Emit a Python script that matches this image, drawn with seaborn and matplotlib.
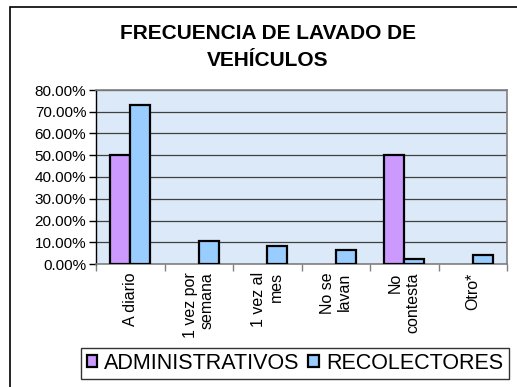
import matplotlib
matplotlib.use("Agg")
import matplotlib.pyplot as plt
import seaborn as sns
import pandas as pd
from matplotlib.patches import Rectangle, Patch
from matplotlib.ticker import FixedLocator, FuncFormatter

# Survey data: share of respondents by washing frequency
categorias = ["A diario", "1 vez por\nsemana", "1 vez al\nmes", "No se\nlavan", "No\ncontesta", "Otro*"]
administrativos = [50.0, 0.0, 0.0, 0.0, 50.0, 0.0]
recolectores = [72.9, 10.4, 8.3, 6.3, 2.1, 4.2]
grupos = ["ADMINISTRATIVOS", "RECOLECTORES"]
colores = ["#CC99FF", "#99CCFF"]
titulo = "FRECUENCIA DE LAVADO DE\nVEHÍCULOS"

df = pd.DataFrame({
    "categoria": categorias * 2,
    "valor": administrativos + recolectores,
    "grupo": [grupos[0]] * len(categorias) + [grupos[1]] * len(categorias),
})

sns.set_theme(style="white")
plt.rcParams["font.family"] = ["Liberation Sans", "DejaVu Sans"]
for key in ["text.color", "axes.labelcolor", "xtick.color", "ytick.color"]:
    plt.rcParams[key] = "black"

W, H = 517, 387
fig = plt.figure(figsize=(W / 100, H / 100), dpi=100)

# outer chart frame (extends past the right and bottom edges)
fig.patches.append(Rectangle((10 / W, -0.1), 1.2, 1 - 7 / H + 0.1,
                             transform=fig.transFigure, fill=False,
                             edgecolor="black", linewidth=1.2, zorder=0))

ax = fig.add_axes([96 / W, 1 - 264 / H, (507 - 96) / W, (264 - 90) / H])
ax.set_facecolor("#DCE9F8")

sns.barplot(data=df, x="categoria", y="valor", hue="grupo", hue_order=grupos,
            palette=colores, width=0.58, gap=0, edgecolor="black", linewidth=1.6,
            saturation=1, ax=ax, legend=False, zorder=3)

# empty categories show no bar at all
for bar in ax.patches:
    if bar.get_height() == 0:
        bar.set_visible(False)

ax.set_ylim(0, 80)
ax.set_xlim(-0.5, len(categorias) - 0.5)
ax.yaxis.set_major_locator(FixedLocator(range(0, 81, 10)))
ax.yaxis.set_major_formatter(FuncFormatter(lambda v, p: f"{v:.2f}%"))
ax.grid(axis="y", color="#404040", linewidth=0.9, zorder=1)
ax.set_axisbelow(True)
ax.set_xlabel("")
ax.set_ylabel("")

for side in ["top", "right", "bottom"]:
    ax.spines[side].set_color("#808080")
    ax.spines[side].set_linewidth(1.2)
ax.spines["left"].set_color("black")
ax.spines["left"].set_linewidth(1.0)

ax.tick_params(axis="y", which="major", direction="out", length=5, width=1,
               color="black", labelsize=11, pad=2, left=True)
ax.set_xticks(range(len(categorias)))
ax.set_xticklabels(categorias, rotation=90, fontsize=11.5, va="top",
                   ha="center", multialignment="right")
ax.tick_params(axis="x", which="major", length=0, pad=6)
ax.set_xticks([i + 0.5 for i in range(-1, len(categorias))], minor=True)
ax.tick_params(axis="x", which="minor", direction="out", length=5, width=1,
               color="#808080", bottom=True)

handles = [Patch(facecolor=c, edgecolor="black", linewidth=1.6) for c in colores]
leg = fig.legend(handles, grupos, loc="center", bbox_to_anchor=(295 / W, 1 - 363.5 / H),
                 ncol=2, frameon=True, fancybox=False, fontsize=15.5,
                 handlelength=0.5, handleheight=0.5, handletextpad=0.32,
                 columnspacing=0.4, borderpad=0.25, borderaxespad=0)
leg.get_frame().set_edgecolor("black")
leg.get_frame().set_linewidth(1.0)

fig.text(268 / W, 1 - 24 / H, titulo, ha="center", va="top", fontsize=15,
         fontweight="bold", linespacing=1.55)

fig.savefig("out.png", dpi=100)
